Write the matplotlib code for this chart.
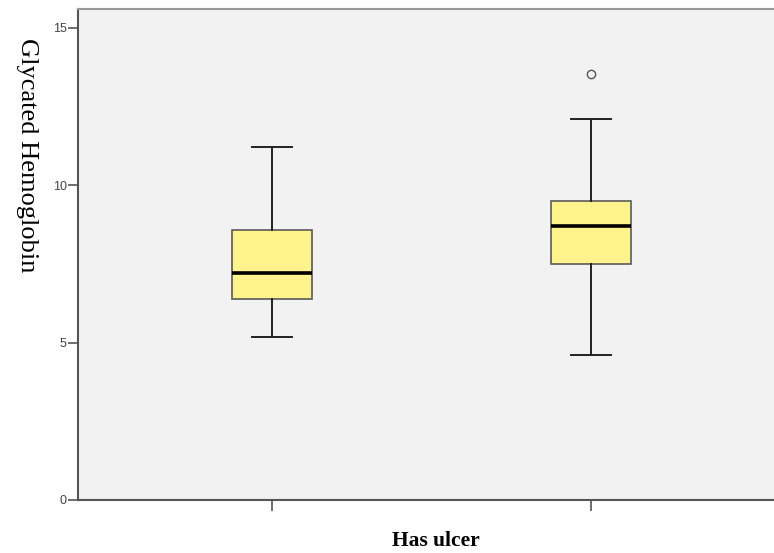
import matplotlib
matplotlib.use("Agg")
from matplotlib import pyplot as plt

# Box summaries (Has ulcer: no / yes)
groups = ["No", "Yes"]
whisker_low = [5.19, 4.60]
q1 = [6.38, 7.51]
median = [7.22, 8.71]
q3 = [8.58, 9.51]
whisker_high = [11.22, 12.11]
outliers = [[], [13.52]]

y_ticks = [0, 5, 10, 15]

stats = []
for i in range(len(groups)):
    stats.append({
        "label": groups[i],
        "whislo": whisker_low[i],
        "q1": q1[i],
        "med": median[i],
        "q3": q3[i],
        "whishi": whisker_high[i],
        "fliers": outliers[i],
    })

fig = plt.figure(figsize=(7.74, 5.53), dpi=100)
ax = fig.add_axes([78 / 774, 53 / 553, 1 - 78 / 774, (500 - 9) / 553])
ax.set_facecolor("#f2f2f2")

ax.bxp(stats, positions=[1, 2], widths=0.25, patch_artist=True,
       boxprops=dict(facecolor="#fdf28c", edgecolor="#5a5a5a", linewidth=1.2),
       medianprops=dict(color="black", linewidth=2.6),
       whiskerprops=dict(color="#222222", linewidth=1.4),
       capprops=dict(color="#222222", linewidth=1.4),
       capwidths=0.125,
       flierprops=dict(marker="o", markersize=6, markerfacecolor="none",
                       markeredgecolor="#555555", markeredgewidth=1.0))

ax.set_xlim(0.392, 2.574)
ax.set_ylim(0, 15.6)
ax.set_yticks(y_ticks)
ax.set_yticklabels([str(t) for t in y_ticks], fontsize=9, family="Liberation Sans", color="#444444")
ax.set_xticks([1, 2])
ax.set_xticklabels(["", ""])
ax.tick_params(axis="y", length=7, width=1.2, color="#555555", pad=1)
ax.tick_params(axis="x", length=8, width=1.2, color="#555555")

ax.spines["left"].set_color("#555555")
ax.spines["left"].set_linewidth(1.5)
ax.spines["bottom"].set_color("#555555")
ax.spines["bottom"].set_linewidth(1.5)
ax.spines["top"].set_color("#999999")
ax.spines["top"].set_linewidth(1.5)
ax.spines["right"].set_visible(False)

fig.text(27 / 774, 1 - 155 / 553, "Glycated Hemoglobin", rotation=-90,
         ha="center", va="center", fontsize=19, family="Liberation Serif")
fig.text(436 / 774, 1 - 541 / 553, "Has ulcer", ha="center", va="center",
         fontsize=15.5, fontweight="bold", family="Liberation Serif")

fig.savefig("out.png", dpi=100)
